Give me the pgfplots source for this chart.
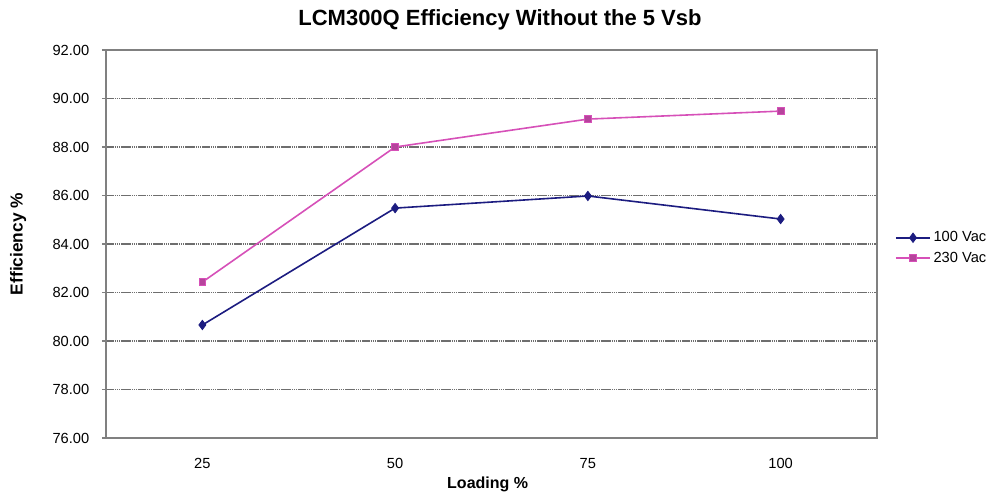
\documentclass[border=0pt]{standalone}
\usepackage{fontspec}
\setmainfont{Liberation Sans}
\usepackage{pgfplots}
\pgfplotsset{compat=1.18}
\definecolor{vacblue}{RGB}{28,28,128}
\definecolor{vacpink}{RGB}{214,80,184}
\definecolor{gridgray}{RGB}{110,110,110}

\begin{document}
\begin{tikzpicture}[x=0.75pt,y=0.75pt]
  % overall canvas, 1px = 0.75pt
  \useasboundingbox (-79.5pt,-45pt) rectangle (669.75pt,328.5pt);
  \begin{axis}[
      at={(0,0)}, anchor=south west,
      scale only axis,
      width=578.25pt, height=291pt,
      xmin=0.5, xmax=4.5,
      ymin=76, ymax=92,
      xtick={1,2,3,4},
      xticklabels={25,50,75,100},
      ytick={76,78,...,92},
      ymajorgrids,
      grid style={gridgray, line width=1pt, dash pattern=on 1.2pt off 0.4pt},
      axis line style={gray, line width=0.9pt},
      tick align=outside,
      ytick pos=left,
      xtick pos=bottom,
      major tick length=3pt,
      x tick style={draw=none},
      y tick style={gray, line width=0.8pt},
      tick label style={font=\fontsize{11}{13}\selectfont},
      yticklabel style={xshift=-6pt, /pgf/number format/.cd, fixed, fixed zerofill, precision=2, assume math mode=true},
      xticklabel style={yshift=-9pt},
      xlabel={Loading \%},
      ylabel={Efficiency \%},
      xlabel style={at={(axis description cs:0.495,-0.1186)}, anchor=center, font=\bfseries\fontsize{12}{14}\selectfont},
      ylabel style={at={(axis description cs:-0.114,0.5)}, anchor=center, font=\bfseries\fontsize{13}{15}\selectfont},
      title={LCM300Q Efficiency Without the 5 Vsb},
      title style={at={(axis description cs:0.511,1.057)}, anchor=center, font=\bfseries\fontsize{16.5}{19}\selectfont},
      legend style={at={(axis description cs:1.018,0.49)}, anchor=west, draw=none, fill=none,
        font=\fontsize{11}{13}\selectfont, row sep=2pt},
      legend cell align=left,
      legend image code/.code={
        \draw[#1] (0cm,0cm) -- (0.9cm,0cm);
        \draw[#1, only marks] plot coordinates {(0.45cm,0cm)};},
    ]
    \addplot[vacblue, line width=1.2pt, mark=diamond*, mark size=3.5pt, mark options={fill=vacblue, line width=0.6pt}]
      coordinates {(1,80.66) (2,85.48) (3,85.98) (4,85.03)};
    \addlegendentry{100 Vac}
    \addplot[vacpink, line width=1.2pt, mark=square*, mark size=2.6pt, mark options={fill=vacpink!85!black, line width=0.6pt}]
      coordinates {(1,82.43) (2,88.00) (3,89.15) (4,89.48)};
    \addlegendentry{230 Vac}
  \end{axis}
\end{tikzpicture}
\end{document}
